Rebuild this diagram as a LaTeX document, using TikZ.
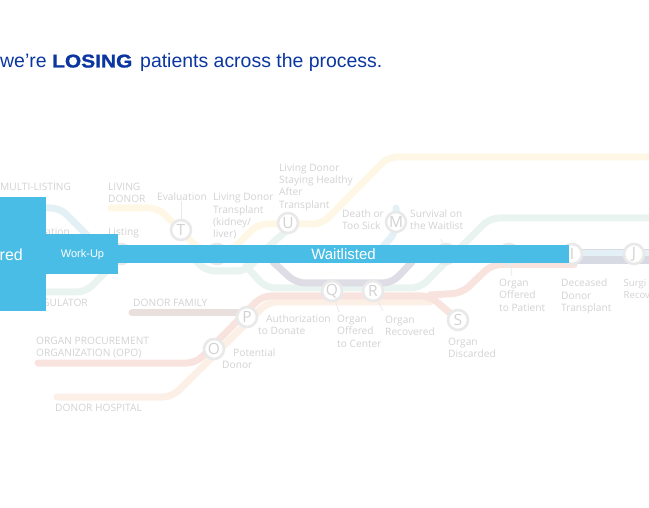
\documentclass[tikz,border=0pt]{standalone}
\usepackage{fontspec}
\setmainfont{Liberation Sans}
\newfontfamily\labelfont{Open Sans}
\newfontfamily\heavyfont[FakeBold=1.2,FakeStretch=1.13]{Liberation Sans Bold}
\definecolor{titleblue}{HTML}{0B36A0}
\definecolor{barblue}{HTML}{4ABDE6}
\definecolor{lblgrey}{HTML}{D2D2D2}
\definecolor{stopgrey}{HTML}{E9E9E9}
\definecolor{lyellow}{HTML}{FEF7E6}
\definecolor{lblue}{HTML}{E3F1F6}
\definecolor{lgreen}{HTML}{E9F4F1}
\definecolor{lpurple}{HTML}{DEDDE6}
\definecolor{lbrown}{HTML}{E9E0DE}
\definecolor{lpink}{HTML}{F9E3DE}
\definecolor{lorange}{HTML}{FCEFE6}
\definecolor{lsteel}{HTML}{D7DAE2}
\tikzset{
  x=1pt,y=-1pt,
  route/.style={line width=7pt,line cap=round,rounded corners=9pt},
  stopnode/.style={circle,draw=stopgrey,fill=white,line width=2.6pt,minimum size=20pt,inner sep=0pt,text=lblgrey,font=\labelfont\fontsize{15.5}{15.5}\selectfont},
  lbl/.style={anchor=north west,align=left,inner sep=0pt,text=lblgrey,font=\labelfont\fontsize{10.2}{12.4}\selectfont},
  lead/.style={draw=stopgrey,line width=0.8pt},
  blk/.style={fill=barblue,draw=none},
  wtxt/.style={text=white,inner sep=0pt},
  ttl/.style={text=titleblue,inner sep=0pt,anchor=base west}
}
\begin{document}
\begin{tikzpicture}
\useasboundingbox (0,0) rectangle (649,508);
\clip (0,0) rectangle (649,508);
% title
\node[ttl,font=\fontsize{19.45}{20}\selectfont] (t1) at (0,67.5) {we’re};
\node[ttl,font=\heavyfont\fontsize{18.5}{19}\selectfont] (t2) at (52,67.5) {LOSING};
\node[ttl,font=\fontsize{19.45}{20}\selectfont] (t3) at (140,67.5) {patients across the process.};
% routes
\draw[route,lyellow] (111,208) -- (158,208) -- (200,250) -- (232,250) -- (258,224) -- (322,224) -- (388,157) -- (660,157);
\draw[route,lblue] (40,208) -- (60,208) -- (92,240);
\draw[route,lgreen] (40,292) -- (86,292) -- (122,255) -- (190,255) -- (206,271) -- (246,271) -- (270,245) -- (285,232);
\draw[route,lgreen] (246,266) -- (266,288) -- (420,288) -- (490,218) -- (660,218);
\draw[route,lpurple] (273,262) -- (296,283) -- (392,283) -- (412,262);
\draw[route,lblue] (380,250) -- (396,232) -- (396,208);
\draw[route,lbrown] (132,313) -- (250,313);
\draw[route,lorange] (57,397) -- (172,397) -- (268,302) -- (430,302);
\draw[route,lpink] (38,363) -- (196,363) -- (262,296) -- (430,296) -- (458,320);
\draw[route,lpink] (430,295) -- (462,293) -- (492,264.5) -- (574,264.5);
\draw[line width=15pt,lsteel] (570,256.5) -- (660,256.5);
\draw[line width=5.5pt,lblue] (570,253) -- (660,253);
% stops
\node[stopnode] (T) at (181,230) {T};
\node[stopnode] (U) at (288,223) {U};
\node[stopnode] (M) at (396,222) {M};
\node[stopnode] (Q) at (332,291) {Q};
\node[stopnode] (R) at (373,291) {R};
\node[stopnode] (S) at (458,320) {S};
\node[stopnode] (P) at (247,317) {P};
\node[stopnode] (O) at (214,349) {O};
\node[stopnode] (L) at (121,254) {};
\node[stopnode] (A) at (217,254) {};
\node[stopnode] (B) at (446,254) {};
\node[stopnode] (C) at (509,254) {};
\node[stopnode] (D) at (572,254) {I};
\node[stopnode] (J) at (634,254) {J};
% labels
\node[lbl] (a1) at (0,183) {MULTI-LISTING};
\node[lbl] (a2) at (108,183) {LIVING\\DONOR};
\node[lbl] (a3) at (157,193) {Evaluation};
\node[lbl] (a4) at (213,193) {Living Donor\\Transplant\\(kidney/\\liver)};
\node[lbl] (a5) at (279,163.5) {Living Donor\\Staying Healthy\\After\\Transplant};
\node[lbl] (a6) at (342,209.5) {Death or\\Too Sick};
\node[lbl] (a7) at (410,209.5) {Survival on\\the Waitlist};
\node[lbl] (a8) at (108,228) {Listing};
\node[lbl] (a9) at (20,228) {Evaluation};
\node[lbl] (a10) at (30,299) {REGULATOR};
\node[lbl] (a11) at (133,299) {DONOR FAMILY};
\node[lbl] (a12) at (36,337) {ORGAN PROCUREMENT\\ORGANIZATION (OPO)};
\node[lbl] (a13) at (55,404) {DONOR HOSPITAL};
\node[lbl] (a14) at (233,349) {Potential};
\node[lbl] (a14b) at (222,361.5) {Donor};
\node[lbl] (a15) at (266,315) {Authorization};
\node[lbl] (a15b) at (258,327.5) {to Donate};
\node[lbl] (a16) at (337,315) {Organ\\Offered\\to Center};
\node[lbl] (a17) at (385,316) {Organ\\Recovered};
\node[lbl] (a18) at (448,338) {Organ\\Discarded};
\node[lbl] (a19) at (499,279) {Organ\\Offered\\to Patient};
\node[lbl] (a20) at (561,279) {Deceased\\Donor\\Transplant};
\node[lbl,font=\labelfont\fontsize{9.6}{12.4}\selectfont] (a21) at (623.5,279) {Surgi\\Recov};
% leaders
\draw[lead] (a3.south -| T) -- (T);
\draw[lead] (Q) -- (339,312);
\draw[lead] (R) -- (383,311);
\draw[lead] (C) -- (512,276);
\draw[lead] (B) -- (441,239);
% blue blocks
\fill[blk] (0,197) rectangle (46,311);
\fill[blk] (46,234) rectangle (118,274);
\fill[blk] (118,245) rectangle (569,263.5);
\node[wtxt,anchor=base east,font=\fontsize{16}{16}\selectfont] (b1) at (23,260.5) {red};
\node[wtxt,anchor=base,font=\fontsize{11}{11}\selectfont] (b2) at (82.5,258) {Work-Up};
\node[wtxt,anchor=base,font=\fontsize{15}{15}\selectfont] (b3) at (343.5,260) {Waitlisted};
\end{tikzpicture}
\end{document}
